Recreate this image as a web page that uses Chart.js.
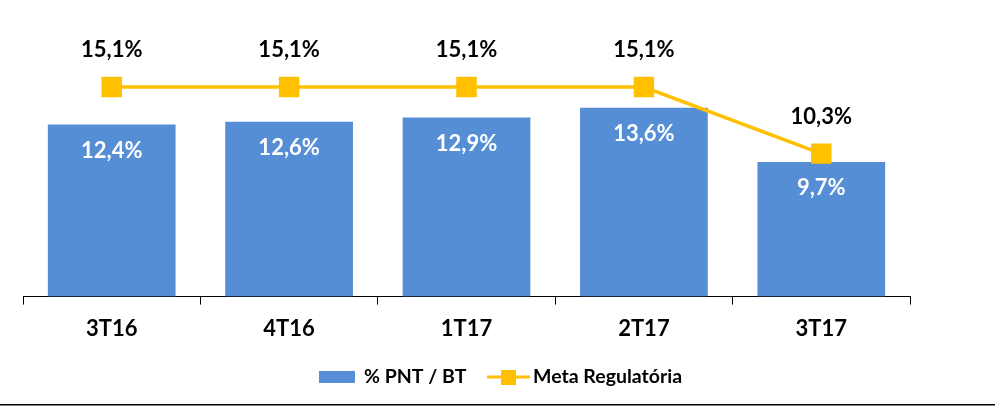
<!DOCTYPE html>
<html>
<head>
<meta charset="utf-8">
<script src="https://cdn.jsdelivr.net/npm/chart.js@4.4.0/dist/chart.umd.min.js"></script>
<style>
  html, body { margin: 0; padding: 0; background: #fff; }
  #wrap { width: 995px; height: 409px; }
</style>
</head>
<body>
<div id="wrap"><canvas id="chart"></canvas></div>
<script>
const categories = ["3T16", "4T16", "1T17", "2T17", "3T17"];
const pntValues = [12.4, 12.6, 12.9, 13.6, 9.7];
const metaValues = [15.1, 15.1, 15.1, 15.1, 10.3];

const BLUE = "#558ED5";
const YELLOW = "#FFC000";
const FONT = "Lato, 'Open Sans', sans-serif";

const fmt = (v) => v.toFixed(1).replace(".", ",") + "%";

// value labels + legend + bottom rule
const extras = {
  id: "extras",
  afterDatasetsDraw(chart) {
    const ctx = chart.ctx;
    ctx.save();
    ctx.textAlign = "center";
    ctx.textBaseline = "middle";
    ctx.font = "bold 22px " + FONT;

    chart.getDatasetMeta(0).data.forEach((bar, i) => {
      ctx.fillStyle = "#fff";
      ctx.fillText(fmt(pntValues[i]), bar.x, bar.y + 26);
    });
    chart.getDatasetMeta(1).data.forEach((pt, i) => {
      ctx.fillStyle = "#000";
      ctx.fillText(fmt(metaValues[i]), pt.x, pt.y - 37);
    });

    // legend
    const ly = 377;
    ctx.font = "bold 19.5px " + FONT;
    ctx.textAlign = "left";
    ctx.fillStyle = BLUE;
    ctx.fillRect(319, ly - 6, 36, 12);
    ctx.fillStyle = "#000";
    ctx.fillText(chart.data.datasets[0].label, 364, ly);

    ctx.strokeStyle = YELLOW;
    ctx.lineWidth = 3;
    ctx.beginPath();
    ctx.moveTo(487, ly);
    ctx.lineTo(530, ly);
    ctx.stroke();
    ctx.fillStyle = YELLOW;
    ctx.fillRect(501, ly - 7, 15, 15);
    ctx.fillStyle = "#000";
    ctx.fillText(chart.data.datasets[1].label, 533, ly);

    // bottom rule
    ctx.fillStyle = "#000";
    ctx.fillRect(0, 404, chart.width, 1.5);
    ctx.restore();
  }
};

new Chart(document.getElementById("chart"), {
  data: {
    labels: categories,
    datasets: [
      {
        type: "bar",
        label: "% PNT / BT",
        data: pntValues,
        backgroundColor: BLUE,
        categoryPercentage: 0.72,
        barPercentage: 1,
        order: 1,
      },
      {
        type: "line",
        label: "Meta Regulatória",
        data: metaValues,
        borderColor: YELLOW,
        backgroundColor: YELLOW,
        borderWidth: 3.5,
        pointStyle: "rect",
        pointRadius: 12,
        pointHoverRadius: 12,
        tension: 0,
        order: 0,
      },
    ],
  },
  options: {
    responsive: true,
    maintainAspectRatio: false,
    animation: false,
    layout: { padding: { left: 23, right: 85, top: 19, bottom: 56 } },
    plugins: { legend: { display: false }, tooltip: { enabled: false } },
    scales: {
      x: {
        grid: {
          offset: true,
          drawOnChartArea: false,
          tickLength: 8,
          color: "#000",
        },
        border: { display: true, color: "#000", width: 1 },
        ticks: {
          color: "#000",
          padding: 11,
          font: { family: FONT, size: 22, weight: "bold" },
        },
      },
      y: { display: false, min: 0, max: 20 },
    },
  },
  plugins: [extras],
});
</script>
</body>
</html>
